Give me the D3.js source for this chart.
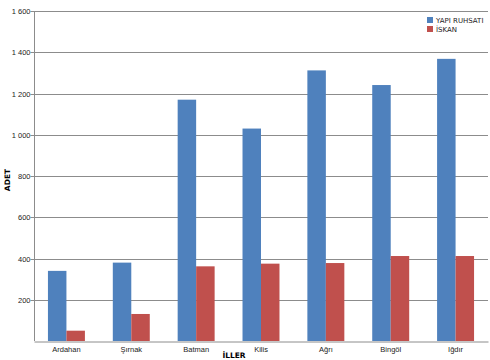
<!DOCTYPE html>
<html><head><meta charset="utf-8">
<script src="https://cdn.jsdelivr.net/npm/d3@7"></script>
<style>body{margin:0;background:#fff}svg{display:block}</style>
</head><body>
<script>
const categories = ["Ardahan","Şırnak","Batman","Kilis","Ağrı","Bingöl","Iğdır"];
const seriesNames = ["YAPI RUHSATI","İSKAN"];
const yapiRuhsati = [340,380,1170,1030,1312,1241,1368];
const iskan = [50,131,362,375,378,412,412];
const yTicks = [200,400,600,800,1000,1200,1400,1600];
const colors = ["#4F81BD","#C0504D"];

const W=490,H=360;
const m={l:34,r:2,t:11,b:19};
const svg=d3.select("body").append("svg").attr("width",W).attr("height",H)
  .style("font-family","'DejaVu Sans',sans-serif");

const x=d3.scaleBand().domain(categories).range([m.l,W-m.r]).paddingInner(0.43).paddingOuter(0.215);
const xs=d3.scaleBand().domain(seriesNames).range([0,x.bandwidth()]);
const y=d3.scaleLinear().domain([0,1600]).range([H-m.b,m.t]);

// gridlines
svg.append("g").selectAll("line").data(yTicks).join("line")
  .attr("x1",m.l).attr("x2",W-m.r).attr("y1",d=>Math.round(y(d))+0.5).attr("y2",d=>Math.round(y(d))+0.5)
  .attr("stroke","#8c8c8c").attr("stroke-width",1);

// y axis
const ya=svg.append("g").attr("transform",`translate(${m.l+0.5},0)`)
  .call(d3.axisLeft(y).tickValues(yTicks).tickSize(4).tickFormat(d=>d3.format(",")(d).replace(/,/g," ")));
ya.select(".domain").attr("stroke","#8c8c8c").attr("d",`M0,${m.t}V${H-m.b}`);
ya.selectAll(".tick line").attr("stroke","#8c8c8c");
ya.selectAll(".tick text").attr("font-size",7.5).attr("fill","#222").attr("x",-4);
ya.selectAll(".tick").attr("transform",d=>`translate(0,${Math.round(y(d))+0.5})`);

// bars
const groups=svg.append("g").selectAll("g").data(categories).join("g")
  .attr("transform",d=>`translate(${x(d)},0)`);
groups.selectAll("rect").data((d,i)=>[yapiRuhsati[i],iskan[i]].map((v,k)=>({v,k})))
  .join("rect")
  .attr("x",d=>xs(seriesNames[d.k])).attr("width",xs.bandwidth())
  .attr("y",d=>y(d.v)).attr("height",d=>y(0)-y(d.v))
  .attr("fill",d=>colors[d.k]);

// x axis
const xa=svg.append("g").attr("transform",`translate(0,${H-m.b+0.5})`)
  .call(d3.axisBottom(x).tickSize(0).tickPadding(5));
xa.select(".domain").attr("stroke","#8c8c8c");
xa.selectAll(".tick text").attr("font-size",7.5).attr("fill","#222");

// axis titles
svg.append("text").attr("x",234).attr("y",358).attr("text-anchor","middle")
  .attr("font-size",7.5).attr("font-weight","bold").text("İLLER");
svg.append("text").attr("transform","translate(10,180) rotate(-90)").attr("text-anchor","middle")
  .attr("font-size",7.5).attr("font-weight","bold").text("ADET");

// legend
const lg=svg.append("g").attr("transform","translate(427,17)");
seriesNames.forEach((n,i)=>{
  lg.append("rect").attr("x",0).attr("y",i*9).attr("width",6).attr("height",6).attr("fill",colors[i]);
  lg.append("text").attr("x",9).attr("y",i*9+6).attr("font-size",7).attr("fill","#222").text(n);
});
</script>
</body></html>
